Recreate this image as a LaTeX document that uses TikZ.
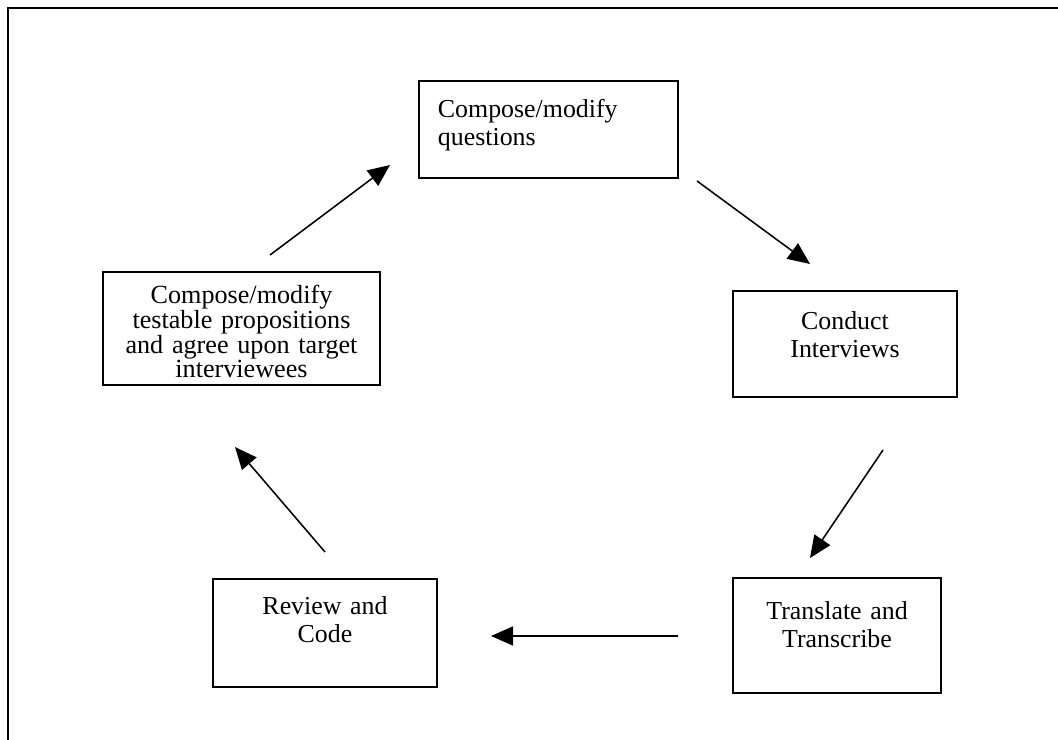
\documentclass[tikz,border=0pt]{standalone}
\usepackage{fontspec}
\setmainfont{Liberation Serif}
\usepackage{tikz}
\usetikzlibrary{arrows.meta, positioning}

\begin{document}
\begin{tikzpicture}[
    x=0.025cm, y=-0.025cm,
    font=\fontsize{18.4}{19.6}\selectfont,
    >={Triangle[length=0.55cm, width=0.475cm]},
    stage/.style={
      draw,
      line width=1.4pt,
      align=center,
      inner sep=0pt,
      text width=5cm
    },
    arrow/.style={->, line width=1.1pt}
]
\useasboundingbox (0,0) rectangle (1058,740);
\draw[line width=1.4pt] (8,740) -- (8,8) -- (1058,8); % frame
% text height = first baseline below the box top, text depth = the rest
\node[stage, align=left, text height=0.925cm, text depth=1.5cm, text width=5.525cm, minimum width=6.475cm, minimum height=2.425cm] (questions) at (548.5,129.5) {Compose/modify\\questions};
\node[stage, text height=0.975cm, text depth=1.675cm, minimum width=5.6cm, minimum height=2.65cm] (interviews) at (845,344) {Conduct\\Interviews};
\node[stage, text height=1.05cm, text depth=1.825cm, minimum width=5.2cm, minimum height=2.875cm] (translate) at (837,635.5) {Translate and\\Transcribe};
\node[stage, text height=0.9cm, text depth=1.8cm, minimum width=5.6cm, minimum height=2.7cm] (review) at (325,633) {Review and\\Code};
\node[stage, font=\fontsize{18.6}{17.5}\selectfont, text height=0.8cm, text depth=2.025cm, text width=6.6cm, minimum width=6.925cm, minimum height=2.825cm] (propositions) at (241.5,328.5) {Compose/modify\\testable propositions\\and agree upon target\\interviewees};
% arrows float free of the boxes
\coordinate (q1) at (697,181);
\coordinate (q2) at (810,264);
\coordinate (i1) at (883,450);
\coordinate (i2) at (810,558);
\coordinate (t1) at (678,636);
\coordinate (t2) at (491,636);
\coordinate (r1) at (325,552);
\coordinate (r2) at (235,447);
\coordinate (p1) at (270,255);
\coordinate (p2) at (390,165);
\draw[arrow] (q1) -- (q2);
\draw[arrow] (i1) -- (i2);
\draw[arrow] (t1) -- (t2);
\draw[arrow] (r1) -- (r2);
\draw[arrow] (p1) -- (p2);
\end{tikzpicture}
\end{document}
